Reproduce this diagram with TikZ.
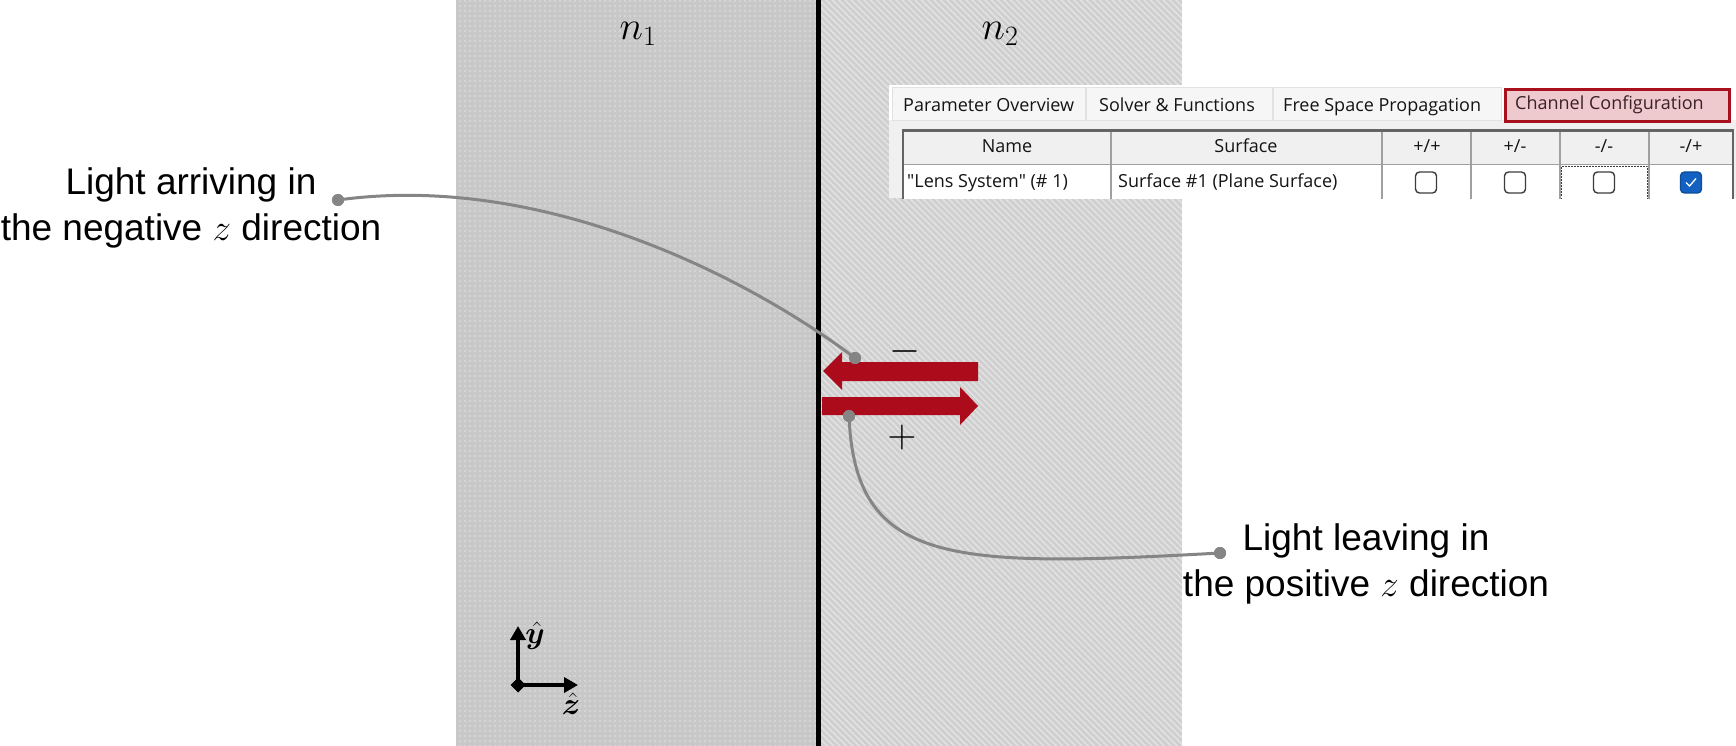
\RequirePackage{fix-cm}
\documentclass[tikz,border=0pt]{standalone}
\usepackage{amsmath}
\usepackage{bm}
\usepackage{fontspec}
\newfontfamily\labelfont{Liberation Sans}
\newfontfamily\uifont{Open Sans}
\usetikzlibrary{patterns.meta,arrows.meta}
\definecolor{nonegray}{HTML}{C8C8C8}
\definecolor{ntwogray}{HTML}{CFCFCF}
\definecolor{ntwoline}{HTML}{E2E2E2}
\definecolor{dotwhite}{HTML}{E4E4E4}
\definecolor{arrowred}{HTML}{AB0B1B}
\definecolor{conngray}{HTML}{858585}
\definecolor{panelgray}{HTML}{F0F0F0}
\definecolor{tabfill}{HTML}{F6F6F6}
\definecolor{tabline}{HTML}{E2E2E2}
\definecolor{tabred}{HTML}{A8101E}
\definecolor{tabpink}{HTML}{EEC9CD}
\definecolor{tabtext}{HTML}{3A2028}
\definecolor{uitext}{HTML}{141414}
\definecolor{gridgray}{HTML}{A0A0A0}
\definecolor{bordergray}{HTML}{646464}
\definecolor{boxgray}{HTML}{3C3C3C}
\definecolor{checkblue}{HTML}{1260C0}
\begin{document}
\begin{tikzpicture}[x=1pt,y=-1pt,
  lbl/.style={font=\labelfont\fontsize{37}{46}\selectfont, align=center, inner sep=0pt},
  mathlbl/.style={font=\fontsize{40}{48}\selectfont, inner sep=0pt},
  axlbl/.style={font=\fontsize{31}{36}\selectfont, inner sep=0pt},
  ui/.style={font=\uifont\fontsize{18}{22}\selectfont, inner sep=0pt, text=uitext},
  conn/.style={draw=conngray, line width=3pt},
  dotc/.style={circle, fill=conngray, minimum size=12pt, inner sep=0pt},
  axis/.style={line width=4pt, -{Triangle[length=14pt,width=15pt]}},
  cbox/.style={rectangle, draw=boxgray, line width=1.4pt, fill=white, rounded corners=4pt, minimum size=21pt, inner sep=0pt},
  tab/.style={fill=tabfill, draw=tabline, line width=1pt},
  grid/.style={draw=gridgray, line width=1.5pt}]
\useasboundingbox (0,0) rectangle (1736,746);
% media regions
\fill[nonegray] (456,0) rectangle (816,746);
\fill[pattern={Dots[distance=5pt, radius=0.8pt]}, pattern color=dotwhite] (456,0) rectangle (816,746);
\fill[ntwogray] (816,0) rectangle (1182,746);
\fill[pattern={Lines[angle=-45, distance=4.5pt, line width=1.6pt]}, pattern color=ntwoline] (816,0) rectangle (1182,746);
% interface
\draw[line width=5pt] (818.5,0) -- (818.5,746);
% index labels
\node[mathlbl] (n1) at (638,34) {$n_1$};
\node[mathlbl] (n2) at (1000,34) {$n_2$};
% screenshot panel
\begin{scope}
\clip (889,85) rectangle (1736,198);
\fill[white] (889,85) rectangle (1736,198);
\fill[panelgray] (889,120) rectangle (1736,198);
\draw[tab] (892,88) rectangle (1085,121);
\draw[tab] (1086,88) rectangle (1272,121);
\draw[tab] (1273,88) rectangle (1501,121);
\draw[fill=tabpink, draw=tabred, line width=3pt] (1505,89.5) rectangle (1729,122);
\node[ui, anchor=base west] (t1) at (903,112) {Parameter Overview};
\node[ui, anchor=base west] (t2) at (1099,112) {Solver \& Functions};
\node[ui, anchor=base west] (t3) at (1283,112) {Free Space Propagation};
\node[ui, anchor=base west, text=tabtext] (t4) at (1515,110) {Channel Configuration};
% table
\fill[panelgray] (904,131) rectangle (1732,164);
\fill[white] (904,165) rectangle (1732,200);
\draw[grid] (904,164.5) -- (1732,164.5);
\foreach \cx in {1111,1382,1471,1560,1649} {\draw[grid] (\cx,131) -- (\cx,200);}
\draw[bordergray, line width=2.2pt] (903,202) -- (903,130.5) -- (1733,130.5) -- (1733,202);
\draw[boxgray, line width=1.2pt, dash pattern=on 1.5pt off 1.5pt] (1561.5,202) -- (1561.5,166.5) -- (1647.5,166.5) -- (1647.5,202);
\node[ui, anchor=base] (hname) at (1007,153) {Name};
\node[ui, anchor=base] (hsurf) at (1246,153) {Surface};
\node[ui, anchor=base] (hpp) at (1427,153) {+/+};
\node[ui, anchor=base] (hpm) at (1515,153) {+/-};
\node[ui, anchor=base] (hmm) at (1604,153) {-/-};
\node[ui, anchor=base] (hmp) at (1691,153) {-/+};
\node[ui, anchor=base west] (rname) at (907,188) {"Lens System" (\# 1)};
\node[ui, anchor=base west] (rsurf) at (1118,188) {Surface \#1 (Plane Surface)};
\node[cbox] (c1) at (1426,182.5) {};
\node[cbox] (c2) at (1515,182.5) {};
\node[cbox] (c3) at (1604,182.5) {};
\node[cbox, draw=checkblue!80!black, fill=checkblue] (c4) at (1691,182.5) {};
\draw[white, line width=1.3pt] ([xshift=-5pt,yshift=0pt]c4.center) -- ([xshift=-1.5pt,yshift=-3.5pt]c4.center) -- ([xshift=5pt,yshift=4pt]c4.center);
\end{scope}
% red arrows
\fill[arrowred] (823,371) -- (842,352) -- (842,362) -- (978,362) -- (978,381) -- (842,381) -- (842,390) -- cycle;
\fill[arrowred] (822,397) -- (960,397) -- (960,387) -- (978,406) -- (960,425) -- (960,415) -- (822,415) -- cycle;
\node[mathlbl] (minus) at (905,351) {$-$};
\node[mathlbl] (plus) at (902,437) {$+$};
% labels and connectors
\node[lbl] (larr) at (191,208) {Light arriving in\\the negative $z$ direction};
\node[lbl] (lleave) at (1366,564) {Light leaving in\\the positive $z$ direction};
\node[dotc] (p1) at (338,200) {};
\node[dotc] (q1) at (855,358) {};
\node[dotc] (q2) at (849,416) {};
\node[dotc] (p2) at (1220,553) {};
\draw[conn] (p1.center) .. controls (540,172) and (745,275) .. (q1.center);
\draw[conn] (q2.center) .. controls (855,565) and (950,568) .. (p2.center);
\node[dotc] at (p1) {};
\node[dotc] at (q1) {};
\node[dotc] at (q2) {};
\node[dotc] at (p2) {};
% axes
\coordinate (o) at (518,685);
\coordinate (ay) at (518,626);
\coordinate (az) at (578,685);
\draw[axis] (o) -- (ay);
\draw[axis] (o) -- (az);
\fill (o) +(-7.5,0) -- +(0,-7.5) -- +(7.5,0) -- +(0,7.5) -- cycle;
\node[axlbl] (ylab) at (535,636) {$\bm{\hat{y}}$};
\node[axlbl] (zlab) at (571,704) {$\bm{\hat{z}}$};
\end{tikzpicture}
\end{document}
